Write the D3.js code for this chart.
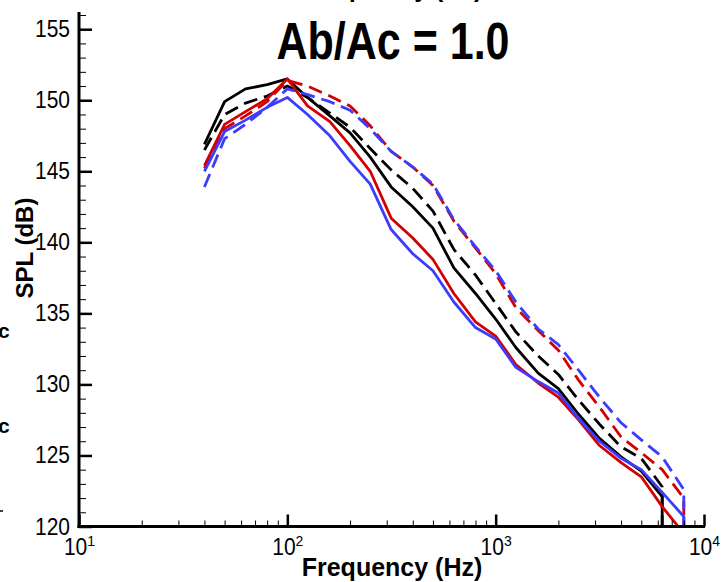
<!DOCTYPE html>
<html>
<head>
<meta charset="utf-8">
<script src="https://cdn.jsdelivr.net/npm/d3@7"></script>
<style>
  body { margin: 0; background: #fff; }
  svg { display: block; font-family: 'Liberation Sans', Arial, sans-serif; }
</style>
</head>
<body>
<div id="chart-area"></div>
<script>
const canvas_width = 722;
const canvas_height = 582;

// third-octave band centres (Hz)
const freqs = [40, 50, 63, 80, 100, 125, 160, 200, 250, 315, 400, 500, 630, 800,
               1000, 1250, 1600, 2000, 2500, 3150, 4000, 5000, 6300, 8000];

// SPL (dB) per band
const black_solid  = [146.9, 149.9, 150.8, 151.1, 151.5, 150.2, 148.9, 147.7, 146.0, 143.9, 142.5, 141.0,
                      138.2, 136.4, 134.6, 132.6, 130.8, 129.7, 127.9, 126.2, 124.9, 123.9, 122.1];
const black_dashed = [146.5, 149.0, 149.8, 150.3, 151.0, 150.2, 149.1, 148.1, 146.6, 145.1, 143.8, 142.2,
                      139.5, 137.7, 135.7, 133.7, 132.0, 130.7, 128.9, 127.2, 125.6, 124.8, 122.8];
const red_solid    = [145.4, 148.3, 149.2, 150.1, 151.5, 149.6, 148.5, 146.8, 145.0, 141.7, 140.3, 138.8,
                      136.4, 134.4, 133.4, 131.4, 130.1, 129.1, 127.5, 125.7, 124.5, 123.5, 121.4, 119.5];
const red_dashed   = [145.2, 148.0, 148.9, 149.9, 151.4, 151.0, 150.3, 149.6, 148.2, 146.4, 145.3, 144.0,
                      141.5, 139.6, 137.8, 135.4, 133.8, 132.4, 130.3, 128.4, 126.3, 125.2, 124.0, 122.0];
const blue_solid   = [145.0, 147.8, 148.6, 149.5, 150.2, 149.0, 147.5, 145.7, 144.1, 140.9, 139.2, 138.0,
                      135.8, 134.0, 133.2, 131.2, 130.2, 129.4, 127.6, 126.0, 124.8, 124.0, 122.4, 120.7];
const blue_dashed  = [143.9, 147.3, 148.3, 149.5, 150.8, 150.4, 149.9, 149.3, 148.0, 146.4, 145.3, 144.1,
                      141.6, 139.7, 138.0, 135.8, 133.9, 132.8, 131.0, 129.1, 127.3, 126.1, 124.9, 122.6];

// each curve falls straight down after its last band
const cutoff_level = 100;

const y_ticks = [120, 125, 130, 135, 140, 145, 150, 155];
const x_ticks = [10, 100, 1000, 10000];
const title = 'Ab/Ac = 1.0';
const x_axis_label = 'Frequency (Hz)';
const y_axis_label = 'SPL (dB)';

const series = [
    { values: black_solid,  color: '#000000', dash: null },
    { values: black_dashed, color: '#000000', dash: '14,7' },
    { values: red_solid,    color: '#d40000', dash: null },
    { values: red_dashed,   color: '#d40000', dash: '14,7' },
    { values: blue_solid,   color: '#3c3cff', dash: null },
    { values: blue_dashed,  color: '#3c3cff', dash: '14,7' }
];

const plot = { left: 79, right: 704, top: 15, bottom: 526.5 };

let svg = d3.select('#chart-area').append('svg')
    .attr('width', canvas_width)
    .attr('height', canvas_height);

let x = d3.scaleLog().domain([10, 10000]).range([plot.left, plot.right]);
let y = d3.scaleLinear().domain([120, 156]).range([plot.bottom, plot.top]);

svg.append('clipPath').attr('id', 'plot-clip')
    .append('rect')
    .attr('x', plot.left).attr('y', plot.top)
    .attr('width', plot.right - plot.left).attr('height', plot.bottom - plot.top);

let line = d3.line()
    .x((d) => { return x(d.f); })
    .y((d) => { return y(d.v); });

let curves = svg.append('g').attr('clip-path', 'url(#plot-clip)');
series.forEach((s) => {
    let pts = s.values.map((v, i) => { return { f: freqs[i], v: v }; });
    pts.push({ f: freqs[s.values.length - 1], v: cutoff_level });
    curves.append('path')
        .attr('d', line(pts))
        .attr('fill', 'none')
        .attr('stroke', s.color)
        .attr('stroke-width', 2.8)
        .attr('stroke-dasharray', s.dash)
        .attr('stroke-linejoin', 'round');
});

// minor ticks
let y_minor = d3.range(120, 157, 1).filter((v) => { return v % 5 !== 0; });
svg.append('g')
    .attr('transform', `translate(${plot.left}, 0)`)
    .call(d3.axisLeft(y).tickValues(y_minor).tickSize(-7).tickFormat(''))
    .call((g) => { g.select('.domain').remove(); g.selectAll('line').attr('stroke-width', 1); });

let x_minor = [];
[10, 100, 1000].forEach((d) => { for (let k = 2; k < 10; k++) x_minor.push(d * k); });
svg.append('g')
    .attr('transform', `translate(0, ${plot.bottom})`)
    .call(d3.axisBottom(x).tickValues(x_minor).tickSize(-6).tickFormat(''))
    .call((g) => { g.select('.domain').remove(); g.selectAll('line').attr('stroke-width', 1); });

// major ticks and labels
let leftAxis = svg.append('g')
    .attr('transform', `translate(${plot.left}, 0)`)
    .call(d3.axisLeft(y).tickValues(y_ticks).tickSize(-13).tickSizeOuter(0).tickPadding(9));
leftAxis.selectAll('.tick line').attr('stroke-width', 2.5);
leftAxis.selectAll('.tick text').attr('font-size', '21px').attr('fill', '#000')
    .attr('font-family', "'Liberation Sans', Arial, sans-serif")
    .attr('transform', 'scale(1, 1.12)');
leftAxis.select('.domain').remove();

let bottomAxis = svg.append('g')
    .attr('transform', `translate(0, ${plot.bottom})`)
    .call(d3.axisBottom(x).tickValues(x_ticks).tickSize(-12).tickSizeOuter(0).tickPadding(5).tickFormat(''));
bottomAxis.selectAll('.tick line').attr('stroke-width', 2.5);
bottomAxis.select('.domain').remove();
bottomAxis.selectAll('.tick text')
    .attr('font-size', '21px').attr('fill', '#000').attr('dy', '1.0em')
    .attr('font-family', "'Liberation Sans', Arial, sans-serif")
    .attr('transform', 'scale(1, 1.1)')
    .each(function (d) {
        let t = d3.select(this);
        t.append('tspan').text('10');
        t.append('tspan').attr('font-size', '14px').attr('dy', '-8').text(Math.round(Math.log10(d)));
    });

// axis lines
svg.append('line')
    .attr('x1', plot.left).attr('x2', plot.left)
    .attr('y1', plot.top - 3).attr('y2', plot.bottom + 1.5)
    .attr('stroke', '#000').attr('stroke-width', 3);
svg.append('line')
    .attr('x1', plot.left - 1.5).attr('x2', plot.right + 1)
    .attr('y1', plot.bottom).attr('y2', plot.bottom)
    .attr('stroke', '#000').attr('stroke-width', 3);

svg.append('text')
    .attr('text-anchor', 'middle')
    .attr('transform', 'translate(393, 59) scale(1, 1.22)')
    .attr('font-size', '43px').attr('font-weight', 'bold')
    .text(title);

svg.append('text')
    .attr('x', 392).attr('y', 576)
    .attr('text-anchor', 'middle')
    .attr('font-size', '25px').attr('font-weight', 'bold')
    .text(x_axis_label);

// label of the panel above, cut by the page edge
svg.append('text')
    .attr('x', 392).attr('y', -3)
    .attr('text-anchor', 'middle')
    .attr('font-size', '25px').attr('font-weight', 'bold')
    .text(x_axis_label);

svg.append('text')
    .attr('x', -(248)).attr('y', 33)
    .attr('text-anchor', 'middle')
    .attr('font-size', '24px').attr('font-weight', 'bold')
    .attr('transform', 'rotate(-90)')
    .text(y_axis_label);

// fragments of the neighbouring panel on the left
svg.append('text').attr('x', -2).attr('y', 338)
    .attr('font-size', '21px').attr('font-weight', 'bold').text('c');
svg.append('text').attr('x', -2).attr('y', 433)
    .attr('font-size', '21px').attr('font-weight', 'bold').text('c');
svg.append('line')
    .attr('x1', 0).attr('x2', 3).attr('y1', 511).attr('y2', 511)
    .attr('stroke', '#000').attr('stroke-width', 1.5);
</script>
</body>
</html>
